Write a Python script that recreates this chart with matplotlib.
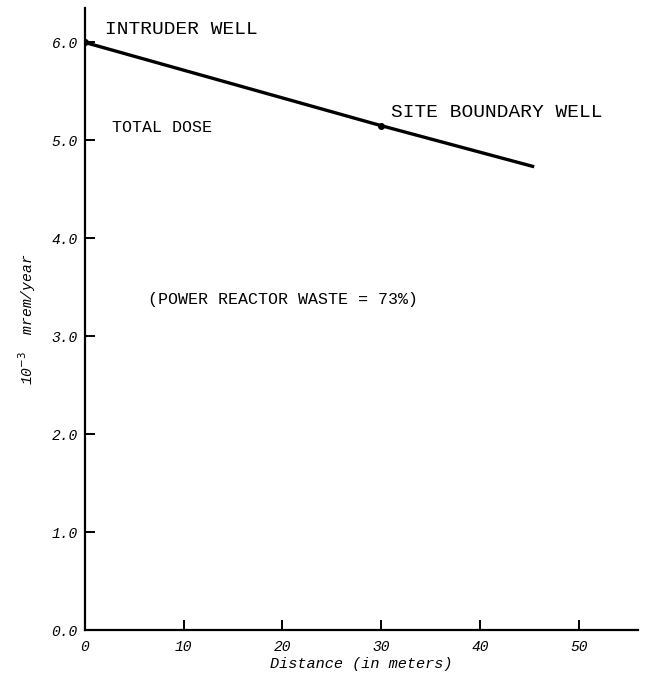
import matplotlib
matplotlib.use('Agg')
import matplotlib.pyplot as plt

# data
distance = [0, 30, 45.5]          # meters
dose = [6.0, 5.15, 4.73]          # 10^-3 mrem/year
well_x = [0, 30]
well_y = [6.0, 5.15]
xticks = [0, 10, 20, 30, 40, 50]
yticks = [0.0, 1.0, 2.0, 3.0, 4.0, 5.0, 6.0]
ytick_labels = ['0.0', '1.0', '2.0', '3.0', '4.0', '5.0', '6.0']

MONO = 'Liberation Mono'

fig = plt.figure(figsize=(6.47, 6.76), dpi=100)
ax = fig.add_axes([0.131, 0.068, 0.855, 0.920])

ax.plot(distance, dose, color='black', lw=2.4, solid_capstyle='butt')
ax.plot(well_x, well_y, 'o', color='black', ms=4)

ax.set_xlim(0, 56)
ax.set_ylim(0, 6.35)

for s in ['top', 'right']:
    ax.spines[s].set_visible(False)
for s in ['left', 'bottom']:
    ax.spines[s].set_linewidth(1.6)

ax.set_xticks(xticks)
ax.set_xticklabels([str(t) for t in xticks], family=MONO, style='italic', fontsize=10.5)
ax.set_yticks(yticks)
ax.set_yticklabels(ytick_labels, family=MONO, style='italic', fontsize=10.5)
ax.tick_params(axis='both', direction='in', length=7, width=1.4, pad=5)
ax.tick_params(axis='x', pad=7)

ax.set_xlabel('Distance (in meters)', family=MONO, style='italic', fontsize=11, labelpad=2)
ax.set_ylabel(r'10$^{-3}$  mrem/year', family=MONO, style='italic', fontsize=10.5)
ax.yaxis.set_label_coords(-0.085, 0.5)

ax.text(2.0, 6.04, 'INTRUDER WELL', family=MONO, fontsize=14, va='bottom')
ax.text(31.0, 5.2, 'SITE BOUNDARY WELL', family=MONO, fontsize=14, va='bottom')
ax.text(2.8, 5.05, 'TOTAL DOSE', family=MONO, fontsize=12, va='bottom')
ax.text(6.4, 3.3, '(POWER REACTOR WASTE = 73%)', family=MONO, fontsize=12, va='bottom')

fig.savefig('out.png', dpi=100)
